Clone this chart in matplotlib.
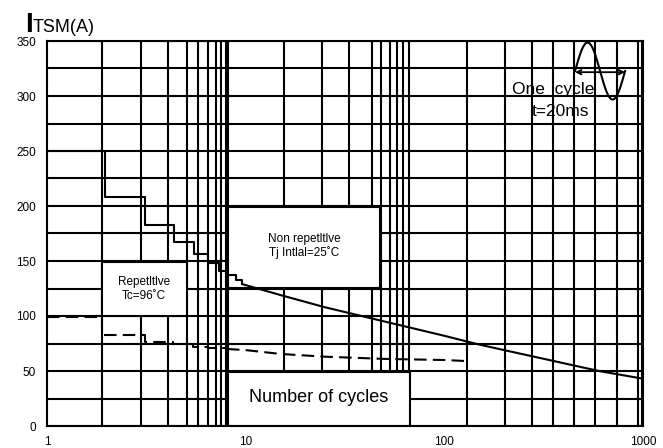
import numpy as np
import matplotlib
matplotlib.use("Agg")
import matplotlib.pyplot as plt
from matplotlib.patches import Rectangle
from matplotlib.ticker import NullFormatter, FixedLocator

plt.rcParams['font.family'] = ['Liberation Sans', 'DejaVu Sans']

# non repetitive surge current (Tj initial = 25C)
nr_step_x = [1, 1.95, 3.1, 4.35, 5.5, 6.45, 7.35, 8.05, 8.95, 9.6]
nr_step_y = [250, 208, 183, 167, 156, 148, 141, 137, 133, 129]
nr_x = [9.6, 15, 25, 50, 100, 150, 200, 300, 600, 1000]
nr_y = [129, 119, 108, 95, 82, 74, 69, 62, 50, 43]

# repetitive surge current (Tc = 96C)
rep_step_x = [1, 1.9, 3.1, 4.3, 5.45, 6.45, 8.05]
rep_step_y = [99, 83, 76.5, 74.5, 72, 71, 70]
rep_x = [8.05, 10, 15, 25, 50, 70, 100, 130]
rep_y = [70, 69, 65.5, 63, 61, 60.5, 60, 59]

x_ticks = [1, 10, 100, 1000]
x_labels = ['1', '10', '100', '1000']
y_ticks = [0, 50, 100, 150, 200, 250, 300, 350]

# the printed grid of the original sheet is not a true log grid
x_grid = [1.89, 2.97, 4.06, 5.07, 5.75, 6.46, 7.09, 7.51, 7.96, 8.15,
          15.6, 24.2, 33.1, 43.3, 48.0, 53.3, 57.8, 61.9, 66.4,
          130, 202, 276, 352, 449, 573, 740, 944, 988]

fig = plt.figure(figsize=(6.63, 4.48), dpi=100)
ax = fig.add_axes([47/663, 22/448, 596/663, 385/448])

ax.set_xscale('log')
ax.set_xlim(1, 1000)
ax.set_ylim(0, 350)
ax.set_xticks(x_ticks, labels=x_labels)
ax.xaxis.set_minor_locator(FixedLocator(x_grid))
ax.xaxis.set_minor_formatter(NullFormatter())
ax.set_yticks(y_ticks)
ax.set_yticks(np.arange(0, 351, 25), minor=True)
ax.tick_params(which='both', length=0, labelsize=8.5)
ax.tick_params(axis='x', pad=7)
ax.tick_params(axis='y', pad=8)
ax.set_axisbelow(True)
ax.grid(True, which='minor', color='black', linewidth=1.5)
ax.grid(True, which='major', axis='y', color='black', linewidth=1.5)
for s in ax.spines.values():
    s.set_linewidth(1.5)

# white label boxes
boxes = [(0.092, 0.286, 0.143, 0.140),
         (0.304, 0.358, 0.255, 0.211),
         (0.304, 0.0, 0.305, 0.140)]
for bx, by, bw, bh in boxes:
    ax.add_patch(Rectangle((bx, by), bw, bh, transform=ax.transAxes,
                           facecolor='white', edgecolor='black', linewidth=1.5, zorder=1))

ax.step(nr_step_x, nr_step_y, where='post', color='black', linewidth=1.5, zorder=3)
ax.plot(nr_x, nr_y, color='black', linewidth=1.5, zorder=3)
ax.step(rep_step_x, rep_step_y, where='post', color='black', linewidth=1.5,
        dashes=(6, 3), zorder=3)
ax.plot(rep_x, rep_y, color='black', linewidth=1.5, dashes=(6, 3), zorder=3)

ax.text(0.163, 0.356, "Repetltlve\nTc=96˚C", transform=ax.transAxes,
        ha='center', va='center', fontsize=8.5, linespacing=1.3, zorder=4)
ax.text(0.431, 0.4675, "Non repetltlve\nTj Intlal=25˚C", transform=ax.transAxes,
        ha='center', va='center', fontsize=8.5, linespacing=1.05, zorder=4)
ax.text(0.455, 0.075, "Number of cycles", transform=ax.transAxes,
        ha='center', va='center', fontsize=13, zorder=4)

ax.text(0.850, 0.873, "One  cycle", transform=ax.transAxes,
        ha='center', va='center', fontsize=12.5, zorder=4)
ax.text(0.862, 0.816, "t=20ms", transform=ax.transAxes,
        ha='center', va='center', fontsize=12.5, zorder=4)

# one cycle sine sketch
t = np.linspace(0, 2 * np.pi, 200)
sx0, sx1, syc, samp = 0.886, 0.970, 0.922, 0.074
ax.plot(sx0 + (sx1 - sx0) * t / (2 * np.pi), syc + samp * np.sin(t),
        color='black', linewidth=1.5, transform=ax.transAxes, zorder=4, clip_on=False)
ax.annotate('', xy=(sx0, 0.919), xytext=(sx1, 0.919), xycoords='axes fraction',
            arrowprops=dict(arrowstyle='<->', color='black', lw=1.3,
                            shrinkA=0, shrinkB=0, mutation_scale=8), zorder=4)

fig.text(25/663, (448-32)/448, "I", fontsize=20, fontweight='bold', va='baseline')
fig.text(33/663, (448-32)/448, "TSM(A)", fontsize=13, va='baseline')

fig.savefig("out.png", dpi=100)
